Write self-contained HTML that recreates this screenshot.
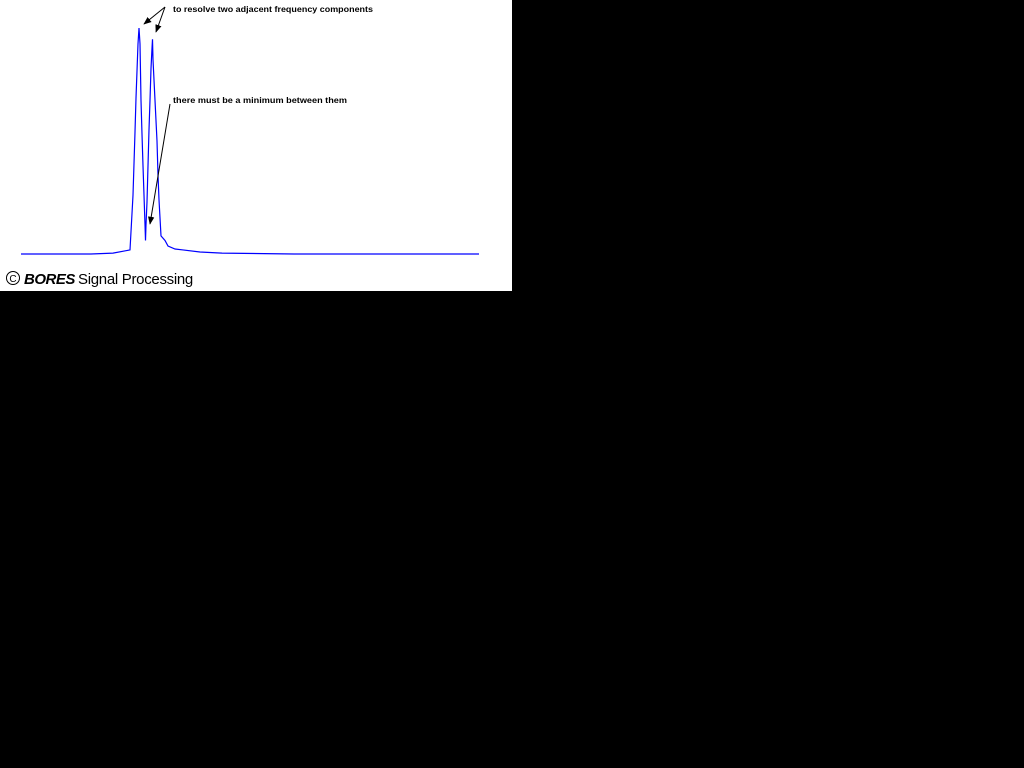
<!DOCTYPE html>
<html><head><meta charset="utf-8"><style>
html,body{margin:0;padding:0;background:#000;width:1024px;height:768px;overflow:hidden}
#panel{position:absolute;left:0;top:0;width:512px;height:291px;background:#fff}
svg{position:absolute;left:0;top:0}
.t{font-family:"Liberation Sans",sans-serif;font-size:8.5px;font-weight:bold;fill:#000}
</style></head><body>
<div id="panel">
<svg id="chart" width="512" height="291">
<defs><marker id="ah" viewBox="0 0 10 10" refX="9" refY="5" markerWidth="8" markerHeight="8" orient="auto"><path d="M0,1 L10,5 L0,9 z" fill="#000"/></marker></defs>
<g id="plot"></g>
<line x1="165" y1="7" x2="144" y2="24" stroke="#000" stroke-width="1" marker-end="url(#ah)"/>
<line x1="165" y1="7" x2="156" y2="32" stroke="#000" stroke-width="1" marker-end="url(#ah)"/>
<line x1="170" y1="104" x2="150" y2="224" stroke="#000" stroke-width="1" marker-end="url(#ah)"/>
<text class="t" x="173" y="12" textLength="200" lengthAdjust="spacingAndGlyphs">to resolve two adjacent frequency components</text>
<text class="t" x="173" y="103" textLength="174" lengthAdjust="spacingAndGlyphs">there must be a minimum between them</text>
<circle cx="13" cy="278" r="6.5" fill="none" stroke="#000" stroke-width="1"/>
<text x="13" y="282" text-anchor="middle" style="font-family:'Liberation Sans',sans-serif;font-size:10px">C</text>
<text x="24" y="284" style="font-family:'Liberation Sans',sans-serif;font-size:15px;font-weight:bold;font-style:italic;letter-spacing:-0.5px">BORES</text>
<text x="78" y="284" style="font-family:'Liberation Sans',sans-serif;font-size:15px;letter-spacing:-0.3px">Signal Processing</text>
</svg>
</div>
<script>
const freq = [0,70,92,109,112,114,115,116,117,118,119,120,121,122,124,124.5,125,126,128,129,130,131,131.5,132,134,136,137,138,140,144,147,154,162,179,201,273,458];
const amplitude = [0,0,0.4,1.8,26,54,69,81,93,100,93,68,53,39,13,6,13,23,55,68,82,91,95,86,68,50,35,24,8,6,3.5,2.2,1.8,0.9,0.4,0,0];
const x = f => 21 + f;
const y = a => 254 - a * 2.26;
const g = document.getElementById('plot');
const pl = document.createElementNS('http://www.w3.org/2000/svg','polyline');
pl.setAttribute('points', freq.map((f,i)=>x(f)+','+y(amplitude[i])).join(' '));
pl.setAttribute('fill','none');
pl.setAttribute('stroke','#0000ff');
pl.setAttribute('stroke-width','1.2');


g.appendChild(pl);
</script>
</body></html>
